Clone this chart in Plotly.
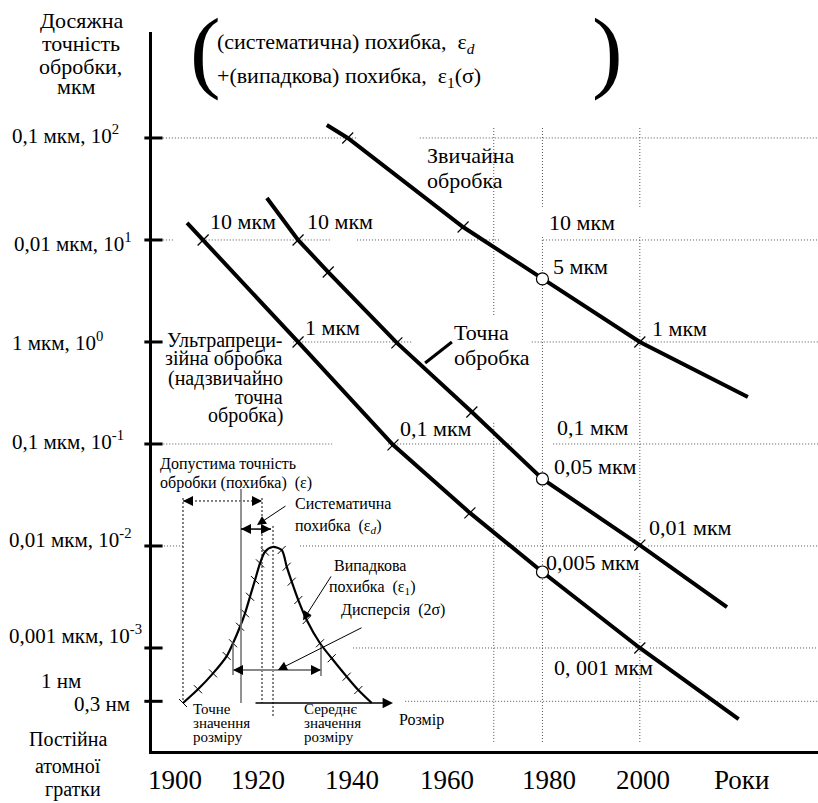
import plotly.graph_objects as go

FONT = "Liberation Serif"
W, H = 818, 803
ML, MT, MB = 152, 32, 52
PW, PH = W - ML, H - MT - MB

# ---------------- main chart data (year, achievable accuracy) ----------------
conv_years = [1935.7, 1940.0, 1963.7, 1980.0, 2000.0, 2022.2]
conv_vals = [134, 100, 13.4, 4.15, 1.0, 0.289]
conv_marks = [1, 2, 4]
conv_circles = [3]

prec_years = [1923.4, 1929.8, 1936.0, 1950.1, 1965.5, 1980.0, 2000.0, 2017.9]
prec_vals = [25.8, 10.0, 4.85, 0.98, 0.206, 0.0454, 0.0102, 0.00252]
prec_marks = [1, 2, 3, 4, 6]
prec_circles = [5]

ultra_years = [1907.0, 1910.3, 1929.8, 1949.3, 1965.1, 1980.0, 2000.0, 2020.3]
ultra_vals = [14.7, 10.0, 1.0, 0.098, 0.0211, 0.00556, 0.001, 0.000201]
ultra_marks = [1, 2, 3, 4, 6]
ultra_circles = [5]

# pointer for "Точна обробка"
fine_ptr_years = [1955.9, 1961.4]
fine_ptr_vals = [0.622, 1.0]

# axis ticks
x_tick_years = [1910, 1920, 1930, 1940, 1950, 1960, 1970, 1980, 1990, 2000, 2010, 2020]
y_tick_vals = [100, 10, 1, 0.1, 0.01, 0.001, 0.0003]
y_tick_text = ["0,1 мкм, 10<sup>2</sup>", "0,01 мкм, 10<sup>1</sup>", "1 мкм, 10<sup>0</sup>",
               "0,1 мкм, 10<sup>-1</sup>", "0,01 мкм, 10<sup>-2</sup>", "0,001 мкм, 10<sup>-3</sup>",
               "0,3 нм"]
x_labels = ["1900", "1920", "1940", "1960", "1980", "2000", "Роки"]

X_RANGE = [1899.8, 2036.6]
Y_RANGE_LOG = [-4.010, 3.039]

# dotted reference lines (horizontal: value -> year segments)
h_grid = {
    100: [(1900.8, 1942.1), (1954.8, 2037)],
    10: [(1900.8, 1904.5), (1909.6, 1936.4), (1941.9, 1971.3), (1980.1, 2037)],
    1: [(1928.8, 1953.2), (1977.8, 2037)],
    0.1: [(1901.5, 1936.8), (1948.3, 1973.9), (1982.2, 2037)],
    0.01: [(1900.4, 1906.2), (1930.2, 2000.0), (2001.7, 2037)],
    0.001: [(1941.1, 2000.0), (2002.1, 2037)],
    0.0003: [(1951.8, 2037)],
}
v_grid = {
    1970: [(125.3, 1.76), (0.161, 0.000117)],
    1980: [(125.3, 21.1), (10.7, 0.000117)],
    2000: [(125.3, 21.1), (10.7, 0.0102), (0.00543, 0.000117)],
}

# ---------------- inset data (size vs frequency) ----------------
bell_size = [0, 15, 30, 43.7, 50, 57, 62, 67, 72, 77, 82, 89.7,
             98.7, 103.7, 108.7, 115.3, 123.7, 137, 148.7, 163.7, 175.3, 188.7]
bell_freq = [0, 0.088, 0.19, 0.301, 0.383, 0.489, 0.575, 0.681, 0.788, 0.895, 0.97, 1.0,
             0.981, 0.874, 0.778, 0.66, 0.532, 0.383, 0.287, 0.169, 0.083, 0]
bell_marks_left = list(range(0, 11))
bell_marks_right = list(range(12, 21))
tol_left, tol_right = 0, 79        # допустима похибка
true_size, mean_size = 58, 90      # точне / середнє значення
disp_left, disp_right = 50, 138    # дисперсія
tol_level, sys_level, disp_level = 1.295, 1.115, 0.212

fig = go.Figure()

GRID = dict(color="#555", width=1, dash="1px,2px")

# horizontal dotted lines
gx, gy = [], []
for val, segs in h_grid.items():
    for a, b in segs:
        gx += [a, b, None]
        gy += [val, val, None]
fig.add_trace(go.Scatter(x=gx, y=gy, mode="lines", line=GRID, hoverinfo="skip"))
# vertical dotted lines
gx, gy = [], []
for yr, segs in v_grid.items():
    for a, b in segs:
        gx += [yr, yr, None]
        gy += [a, b, None]
fig.add_trace(go.Scatter(x=gx, y=gy, mode="lines", line=GRID, hoverinfo="skip"))

# main trend lines
for yrs, vals, marks, circ in [(conv_years, conv_vals, conv_marks, conv_circles),
                               (prec_years, prec_vals, prec_marks, prec_circles),
                               (ultra_years, ultra_vals, ultra_marks, ultra_circles)]:
    fig.add_trace(go.Scatter(x=yrs, y=vals, mode="lines",
                             line=dict(color="black", width=4)))
    fig.add_trace(go.Scatter(x=[yrs[i] for i in marks], y=[vals[i] for i in marks], mode="markers",
                             marker=dict(symbol="line-ne", size=11, line=dict(width=1.2, color="black"))))
    fig.add_trace(go.Scatter(x=[yrs[i] for i in circ], y=[vals[i] for i in circ], mode="markers",
                             marker=dict(symbol="circle", size=12, color="white",
                                         line=dict(width=1.2, color="black"))))

fig.add_trace(go.Scatter(x=fine_ptr_years, y=fine_ptr_vals, mode="lines",
                         line=dict(color="black", width=3)))

# crossing tick marks on the axes
fig.add_trace(go.Scatter(x=[X_RANGE[0] + 0.3] * len(y_tick_vals), y=y_tick_vals, mode="markers",
                         cliponaxis=False,
                         marker=dict(symbol="line-ew", size=13, line=dict(width=3, color="black"))))
fig.add_trace(go.Scatter(x=x_tick_years, y=[10 ** (Y_RANGE_LOG[0] - 0.005)] * len(x_tick_years),
                         mode="markers", cliponaxis=False,
                         marker=dict(symbol="line-ns", size=12, line=dict(width=3, color="black"))))

# ---------------- inset ----------------
IX = dict(xaxis="x2", yaxis="y2")
fig.add_trace(go.Scatter(x=bell_size, y=bell_freq, mode="lines", line=dict(color="black", width=2.2,
                         shape="spline", smoothing=0.8), **IX))
fig.add_trace(go.Scatter(x=[bell_size[i] for i in bell_marks_left], y=[bell_freq[i] for i in bell_marks_left],
                         mode="markers", marker=dict(symbol="line-nw", size=8, line=dict(width=1, color="black")), **IX))
fig.add_trace(go.Scatter(x=[bell_size[i] for i in bell_marks_right], y=[bell_freq[i] for i in bell_marks_right],
                         mode="markers", marker=dict(symbol="line-ne", size=8, line=dict(width=1, color="black")), **IX))

IDOT = dict(color="black", width=1, dash="2px,2px")
vx, vy = [], []
for xv, y0, y1 in [(tol_left, 1.314, 0), (tol_right, 1.314, 0), (mean_size, 1.135, -0.09)]:
    vx += [xv, xv, None]
    vy += [y0, y1, None]
fig.add_trace(go.Scatter(x=vx, y=vy, mode="lines", line=IDOT, **IX))
fig.add_trace(go.Scatter(x=[tol_left, tol_right], y=[tol_level, tol_level], mode="lines", line=IDOT, **IX))
fig.add_trace(go.Scatter(x=[true_size, true_size], y=[1.372, 0], mode="lines",
                         line=dict(color="#777", width=1.6), **IX))
fig.add_trace(go.Scatter(x=[disp_left, disp_left, None, disp_right, disp_right], y=[0.391, 0.179, None, 0.372, 0.173],
                         mode="lines", line=dict(color="#555", width=1.3), **IX))
fig.add_trace(go.Scatter(x=[disp_left, disp_right], y=[disp_level, disp_level], mode="lines",
                         line=dict(color="#888", width=2), **IX))
fig.add_trace(go.Scatter(x=[true_size, mean_size - 2], y=[sys_level, sys_level], mode="lines",
                         line=dict(color="black", width=1.5), **IX))

ann = []


def T(xp, yp, text, size=18, xanchor="left", yanchor="middle"):
    ann.append(dict(x=(xp - ML) / PW, y=(H - MB - yp) / PH, xref="paper", yref="paper", text=text,
                    showarrow=False, xanchor=xanchor, yanchor=yanchor,
                    font=dict(family=FONT, size=size, color="black")))


def arrow(x, y, ax, ay, width=1.0, size=2.0):
    ann.append(dict(x=x, y=y, ax=ax, ay=ay, xref="x2", yref="y2", axref="x2", ayref="y2", text="",
                    showarrow=True, arrowhead=2, arrowsize=size, arrowwidth=width, arrowcolor="black",
                    standoff=0))


# arrow heads of the double arrows
arrow(tol_left, tol_level, tol_left + 8, tol_level, 1.0, 2.0)
arrow(tol_right, tol_level, tol_right - 8, tol_level, 1.0, 2.0)
arrow(true_size, sys_level, true_size + 8, sys_level, 1.0, 2.0)
arrow(mean_size - 2, sys_level, mean_size - 10, sys_level, 1.0, 2.0)
arrow(disp_left, disp_level, disp_left + 8, disp_level, 1.0, 2.0)
arrow(disp_right, disp_level, disp_right - 8, disp_level, 1.0, 2.0)
# pointers
arrow(74, 1.141, 104, 1.269, 1.0, 1.8)
arrow(120, 0.53, 149, 0.821, 1.0, 1.8)
arrow(95, 0.212, 180, 0.487, 1.0, 1.8)
# size axis arrow
arrow(210, 0, 71, 0, 1.3, 1.6)

# ---------------- texts ----------------
for t, xp, yp in zip(["Досяжна", "точність", "обробки,", "мкм"], [38, 40, 37, 55], [20, 43, 66, 87]):
    T(xp, yp, t, 22)
for t, xp, yp in zip(y_tick_text[:-1], [10, 12, 10, 10, 7, 7], [135, 242, 341, 440, 538, 634]):
    T(xp, yp, t, 21)
T(61, 681, "1 нм", 21, "center")
T(132, 704, y_tick_text[-1], 21, "right")
for t, xp, yp in zip(["Постійна", "атомної", "гратки"], [27, 33, 43], [739, 766, 789]):
    T(xp, yp, t, 20)
for t, xp in zip(x_labels, [175, 258, 352, 447, 549, 643, 741]):
    T(xp, 780, t, 27, "center")

T(205, 50, "(", 92, "center")
T(607, 50, ")", 92, "center")
T(215, 43, "(систематична) похибка,  ε<sub><i>d</i></sub>", 22)
T(215, 77, "+(випадкова) похибка,  ε<sub>1</sub>(σ)", 22)

for t, xp, yp in [("10 мкм", 208, 222), ("10 мкм", 305, 222), ("10 мкм", 547, 223), ("5 мкм", 551, 266),
                  ("1 мкм", 650, 328), ("1 мкм", 303, 327), ("0,1 мкм", 398, 428), ("0,1 мкм", 555, 427),
                  ("0,05 мкм", 552, 466), ("0,01 мкм", 647, 527), ("0,005 мкм", 544, 562),
                  ("0, 001 мкм", 552, 667)]:
    T(xp, yp, t, 22)
T(425, 155, "Звичайна", 22)
T(425, 180, "обробка", 22)
T(452, 332, "Точна", 22)
T(452, 357, "обробка", 22)
for t, yp in zip(["Ультрапреци-", "зійна обробка", "(надзвичайно", "точна", "обробка)"],
                 [340, 359, 378, 397, 415]):
    T(285, yp, t, 20, "right")

T(158, 464, "Допустима точність", 16)
T(158, 483, "обробки (похибка)  (ε)", 16)
T(293, 503, "Систематична", 16)
T(293, 526, "похибка  (ε<sub><i>d</i></sub>)", 16)
T(332, 566, "Випадкова", 16)
T(327, 587, "похибка  (ε<sub>1</sub>)", 16)
T(339, 610, "Дисперсія  (2σ)", 16)
for t, yp in zip(["Точне", "значення", "розміру"], [709, 723, 737]):
    T(191, yp, t, 15)
for t, yp in zip(["Середнє", "значення", "розміру"], [709, 723, 737]):
    T(302, yp, t, 15)
T(397, 720, "Розмір", 16)

fig.update_layout(
    width=W, height=H, margin=dict(l=ML, r=0, t=MT, b=MB, pad=0),
    paper_bgcolor="white", plot_bgcolor="rgba(0,0,0,0)", showlegend=False,
    xaxis=dict(range=X_RANGE, showline=True, linewidth=2.5, linecolor="black", showgrid=False,
               zeroline=False, ticks="", showticklabels=False, fixedrange=True),
    yaxis=dict(type="log", range=Y_RANGE_LOG, showline=True, linewidth=2.5, linecolor="black",
               showgrid=False, zeroline=False, ticks="", showticklabels=False, fixedrange=True),
    xaxis2=dict(domain=[0, (412 - ML) / PW], range=[-31, 229], anchor="y2", visible=False),
    yaxis2=dict(domain=[0, (H - MB - 450) / PH], range=[-0.3077, 1.6218], anchor="x2", visible=False),
    annotations=ann,
    font=dict(family=FONT, color="black"),
)

fig.write_html("out.html", config={"displayModeBar": False},
               post_script="document.body.style.margin='0px';document.body.style.overflow='hidden';")
